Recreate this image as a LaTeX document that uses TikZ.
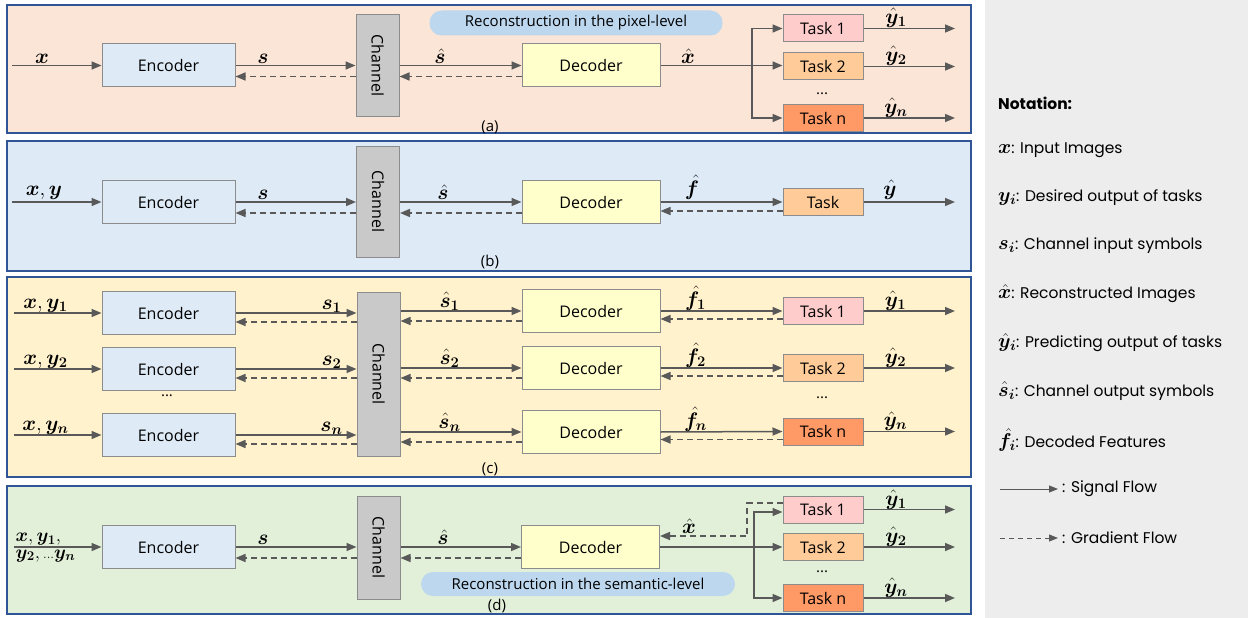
\RequirePackage{fix-cm}
\documentclass[tikz,border=0pt]{standalone}
\usepackage{fontspec}
\setmainfont{Open Sans}
\newfontfamily\notefont{Poppins}
\usepackage{amsmath,bm}
\usetikzlibrary{arrows.meta,calc}
\definecolor{bgA}{HTML}{FBE5D6}
\definecolor{bgB}{HTML}{DEEBF7}
\definecolor{bgC}{HTML}{FFF2CC}
\definecolor{bgD}{HTML}{E2F0D9}
\definecolor{pborder}{HTML}{2F5597}
\definecolor{noteBg}{HTML}{EDEDED}
\definecolor{encfill}{HTML}{DEEBF7}
\definecolor{decfill}{HTML}{FFFFCC}
\definecolor{chanfill}{HTML}{C9C9C9}
\definecolor{boxborder}{HTML}{8C8C8C}
\definecolor{taskone}{HTML}{FFCCCC}
\definecolor{tasktwo}{HTML}{FFCC99}
\definecolor{taskn}{HTML}{FF9966}
\definecolor{pillfill}{HTML}{BDD7EE}
\definecolor{agrey}{HTML}{595959}
\newcommand{\nmath}[1]{{\fontsize{20}{20}\selectfont$\bm{#1}$}}
\begin{document}
\begin{tikzpicture}[x=1pt,y=-1pt,
  panel/.style={draw=pborder, line width=1.5pt},
  blk/.style={draw=boxborder, line width=1pt, minimum height=43pt, inner sep=0pt, font=\fontsize{16}{19}\selectfont},
  enc/.style={blk, fill=encfill, minimum width=133pt},
  dec/.style={blk, fill=decfill, minimum width=138pt},
  chan/.style={blk, fill=chanfill, minimum width=43pt},
  task/.style={blk, minimum width=80pt, minimum height=27pt},
  sig/.style={draw=agrey, line width=1.5pt, -{Triangle[length=10pt,width=8pt]}},
  grad/.style={sig, dash pattern=on 6pt off 4pt},
  lab/.style={font=\fontsize{21}{24}\selectfont, inner sep=0.5pt, anchor=south},
  pill/.style={fill=pillfill, rounded corners=12pt, font=\fontsize{15}{18}\selectfont, inner sep=0pt},
  plab/.style={font=\fontsize{15}{18}\selectfont, inner sep=0pt},
  dots/.style={font=\fontsize{15}{16}\selectfont, inner sep=0pt},
  note/.style={font=\notefont\fontsize{15.5}{18}\selectfont, anchor=west, inner sep=0pt}
]
\useasboundingbox (0,0) rectangle (1248,618);
\fill[white] (0,0) rectangle (1248,618);
% panels
\draw[panel, fill=bgA] (7,5) rectangle (971,133);
\draw[panel, fill=bgB] (7,141) rectangle (971,271);
\draw[panel, fill=bgC] (7,277) rectangle (971,477);
\draw[panel, fill=bgD] (7,486) rectangle (971,614);
\fill[noteBg] (985,0) rectangle (1248,618);
\coordinate (endX) at (955,0);

% ================= (a)
\node[pill, minimum width=293pt, minimum height=25pt] (pillA) at (576,23) {Reconstruction in the pixel-level};
\node[enc] (encA) at (168.5,65.5) {Encoder};
\node[chan, minimum height=101pt] (chanA) at (377.5,65.5) {\rotatebox{-90}{Channel}};
\node[dec] (decA) at (591,65.5) {Decoder};
\node[task, fill=taskone] (t1A) at (823,28.5) {Task 1};
\node[task, fill=tasktwo] (t2A) at (823,66.5) {Task 2};
\node[task, fill=taskn] (tnA) at (823,118) {Task n};
\node[dots] (dotA) at (822,94) {...};
\node[plab] (labA) at (490,127) {(a)};
\coordinate (inA) at (12,65.5);
\coordinate (brA) at (752,65.5);
\draw[sig] (inA) -- (encA.west);
\draw[sig] (encA.east) -- (encA.east -| chanA.west);
\draw[grad] ([yshift=-11pt]encA.east -| chanA.west) -- ([yshift=-11pt]encA.east);
\draw[sig] (decA.west -| chanA.east) -- (decA.west);
\draw[grad] ([yshift=-11pt]decA.west) -- ([yshift=-11pt]decA.west -| chanA.east);
\draw[sig] (decA.east) -- (decA.east -| t2A.west);
\draw[sig] (brA) |- (t1A.west);
\draw[sig] (brA) |- (tnA.west);
\draw[sig] (t1A.east) -- (t1A.east -| endX);
\draw[sig] (t2A.east) -- (t2A.east -| endX);
\draw[sig] (tnA.east) -- (tnA.east -| endX);
\node[lab] (lxA) at (42,64) {$\bm{x}$};
\node[lab] (lsA) at (263,64) {$\bm{s}$};
\node[lab] (lshA) at (440,64) {$\bm{\hat{s}}$};
\node[lab] (lxhA) at (688,64) {$\bm{\hat{x}}$};
\node[lab] (ly1A) at (896,28) {$\bm{\hat{y}_1}$};
\node[lab] (ly2A) at (896,66) {$\bm{\hat{y}_2}$};
\node[lab] (lynA) at (896,118) {$\bm{\hat{y}_n}$};

% ================= (b)
\node[enc] (encB) at (168.5,202) {Encoder};
\node[chan, minimum height=111pt] (chanB) at (378,201.5) {\rotatebox{-90}{Channel}};
\node[dec] (decB) at (591,202) {Decoder};
\node[task, fill=tasktwo] (tB) at (823,202) {Task};
\node[plab] (labB) at (490,262) {(b)};
\coordinate (inB) at (12,202);
\draw[sig] (inB) -- (encB.west);
\draw[sig] (encB.east) -- (encB.east -| chanB.west);
\draw[grad] ([yshift=-11pt]encB.east -| chanB.west) -- ([yshift=-11pt]encB.east);
\draw[sig] (decB.west -| chanB.east) -- (decB.west);
\draw[grad] ([yshift=-11pt]decB.west) -- ([yshift=-11pt]decB.west -| chanB.east);
\draw[sig] (decB.east) -- (tB.west);
\draw[grad] ([yshift=-9pt]tB.west) -- ([yshift=-9pt]tB.west -| decB.east);
\draw[sig] (tB.east) -- (tB.east -| endX);
\node[lab] (lxB) at (44,200) {$\bm{x},\bm{y}$};
\node[lab] (lsB) at (263,200) {$\bm{s}$};
\node[lab] (lshB) at (443,200) {$\bm{\hat{s}}$};
\node[lab] (lfB) at (692,200) {$\bm{\hat{f}}$};
\node[lab] (lyB) at (890,200) {$\bm{\hat{y}}$};

% ================= (c)
\node[enc] (encC1) at (168.5,313) {Encoder};
\node[enc] (encC2) at (168.5,369) {Encoder};
\node[enc] (encCn) at (168.5,435) {Encoder};
\node[dots] (dotC1) at (167,396) {...};
\node[chan, minimum height=164pt] (chanC) at (378.5,374) {\rotatebox{-90}{Channel}};
\node[dec] (decC1) at (591,311) {Decoder};
\node[dec] (decC2) at (591,368) {Decoder};
\node[dec] (decCn) at (591,432) {Decoder};
\node[task, fill=taskone] (t1C) at (823,311) {Task 1};
\node[task, fill=tasktwo] (t2C) at (823,368) {Task 2};
\node[task, fill=taskn] (tnC) at (823,431.5) {Task n};
\node[dots] (dotC2) at (822,398) {...};
\node[plab] (labC) at (490,469) {(c)};
\coordinate (inC1) at (14,313);
\coordinate (inC2) at (14,369);
\coordinate (inCn) at (14,435);
\foreach \i in {1,2,n}{
  \draw[sig] (inC\i) -- (encC\i.west);
  \draw[sig] (encC\i.east) -- (encC\i.east -| chanC.west);
  \draw[grad] ([yshift=-9pt]encC\i.east -| chanC.west) -- ([yshift=-9pt]encC\i.east);
  \draw[sig] (decC\i.west -| chanC.east) -- (decC\i.west);
  \draw[grad] ([yshift=-10pt]decC\i.west) -- ([yshift=-10pt]decC\i.west -| chanC.east);
  \draw[sig] (decC\i.east) -- (t\i C.west);
  \draw[grad] ([yshift=-8pt]t\i C.west) -- ([yshift=-8pt]t\i C.west -| decC\i.east);
  \draw[sig] (t\i C.east) -- (t\i C.east -| endX);
  \node[lab] at ([xshift=96pt]encC\i.east) {$\bm{s_\i}$};
  \node[lab] at ([xshift=-72pt]decC\i.west) {$\bm{\hat{s}_\i}$};
  \node[lab] at ([xshift=35pt]decC\i.east) {$\bm{\hat{f}_\i}$};
  \node[lab] at ([xshift=32pt]t\i C.east) {$\bm{\hat{y}_\i}$};
  \node[lab] at ([xshift=-56pt]encC\i.west) {$\bm{x},\bm{y_\i}$};
}

% ================= (d)
\node[pill, minimum width=314pt, minimum height=24pt] (pillD) at (578,584) {Reconstruction in the semantic-level};
\node[enc] (encD) at (168.5,547) {Encoder};
\node[chan, minimum height=103pt] (chanD) at (378.5,547.5) {\rotatebox{-90}{Channel}};
\node[dec] (decD) at (590.5,547) {Decoder};
\node[task, fill=taskone] (t1D) at (823,509.5) {Task 1};
\node[task, fill=tasktwo] (t2D) at (823,547) {Task 2};
\node[task, fill=taskn] (tnD) at (823,598) {Task n};
\node[dots] (dotD) at (822,572) {...};
\node[plab] (labD) at (497,606) {(d)};
\coordinate (inD) at (14,547);
\coordinate (brD) at (754,547);
\coordinate (gD) at (747,0);
\draw[sig] (inD) -- (encD.west);
\draw[sig] (encD.east) -- (encD.east -| chanD.west);
\draw[grad] ([yshift=-11pt]encD.east -| chanD.west) -- ([yshift=-11pt]encD.east);
\draw[sig] (decD.west -| chanD.east) -- (decD.west);
\draw[grad] ([yshift=-11pt]decD.west) -- ([yshift=-11pt]decD.west -| chanD.east);
\draw[sig] (decD.east) -- (decD.east -| t2D.west);
\draw[sig] (brD) |- ([yshift=-2.5pt]t1D.west);
\draw[sig] (brD) |- (tnD.west);
\draw[grad] ([yshift=6.5pt]t1D.west) -| ([yshift=11pt]gD |- decD.east) -- ([yshift=11pt]decD.east);
\draw[sig] (t1D.east) -- (t1D.east -| endX);
\draw[sig] (t2D.east) -- (t2D.east -| endX);
\draw[sig] (tnD.east) -- (tnD.east -| endX);
\node[lab, font=\fontsize{19}{22}\selectfont, anchor=south west] (lxD1) at (15,546) {$\bm{x},\bm{y_1},$};
\node[lab, font=\fontsize{19}{22}\selectfont, anchor=north west] (lxD2) at (15,549) {$\bm{y_2},{\scriptstyle\ldots}\bm{y_n}$};
\node[lab] (lsD) at (263,545) {$\bm{s}$};
\node[lab] (lshD) at (443,545) {$\bm{\hat{s}}$};
\node[lab] (lxhD) at (689,534) {$\bm{\hat{x}}$};
\node[lab] (ly1D) at (896,510) {$\bm{\hat{y}_1}$};
\node[lab] (ly2D) at (896,547) {$\bm{\hat{y}_2}$};
\node[lab] (lynD) at (896,598) {$\bm{\hat{y}_n}$};

% ================= notation
\node[note] (n0) at (998,103) {\bfseries Notation:};
\node[note] (n1) at (998,150) {\nmath{x}: Input Images};
\node[note] (n2) at (998,198) {\nmath{y_i}: Desired output of tasks};
\node[note] (n3) at (998,246) {\nmath{s_i}: Channel input symbols};
\node[note] (n4) at (998,294) {\nmath{\hat{x}}: Reconstructed Images};
\node[note] (n5) at (998,343) {\nmath{\hat{y}_i}: Predicting output of tasks};
\node[note] (n6) at (998,391) {\nmath{\hat{s}_i}: Channel output symbols};
\node[note] (n7) at (998,440) {\nmath{\hat{f}_i}: Decoded Features};
\node[note] (n8) at (1062,489) {: Signal Flow};
\node[note] (n9) at (1062,538) {: Gradient Flow};
\coordinate (lg1) at (1000,489);
\coordinate (lg2) at (1000,538);
\draw[sig, line width=1pt, -{Triangle[length=9pt,width=7pt]}] (lg1) -- ([xshift=-4pt]n8.west);
\draw[sig, line width=1pt, dash pattern=on 5pt off 4pt, -{Triangle[length=9pt,width=7pt]}] (lg2) -- ([xshift=-4pt]n9.west);
\end{tikzpicture}
\end{document}
